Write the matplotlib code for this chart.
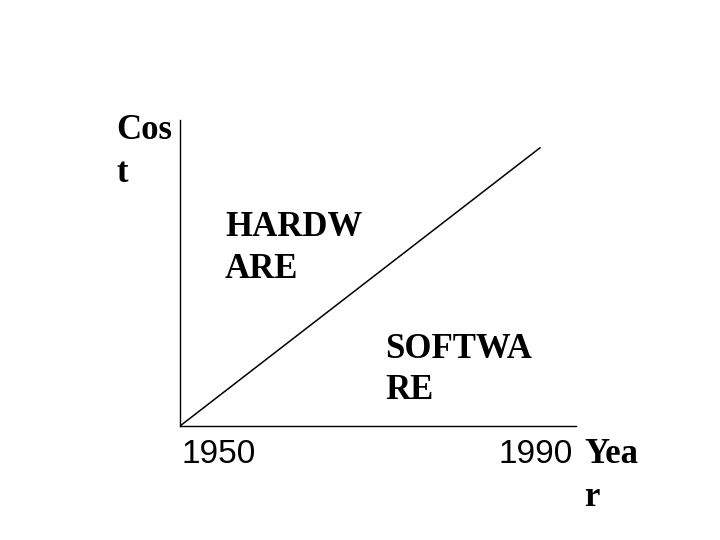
import matplotlib
matplotlib.use('Agg')
import matplotlib.pyplot as plt

# cost line, hardware vs software
years = [1950, 1990]
cost = [0, 1]
year_labels = ['1950', '1990']

serif = dict(family='Liberation Serif', weight='bold', fontsize=25)
sans = dict(family='Liberation Sans', fontsize=24)

fig = plt.figure(figsize=(7.2, 5.4), dpi=100)
ax = fig.add_axes([180 / 720, 1 - 426 / 540, 396 / 720, 306 / 540])

ax.plot(years, cost, color='black', lw=1.1)
ax.set_xlim(1950, 1994)
ax.set_ylim(0, 1.1)

for s in ['top', 'right']:
    ax.spines[s].set_visible(False)
for s in ['left', 'bottom']:
    ax.spines[s].set_linewidth(1.0)
ax.set_xticks([])
ax.set_yticks([])

def px(x, y):
    return x / 720, 1 - y / 540

fig.text(*px(116, 114), 'Cos\nt', va='top', ha='left', linespacing=1.4, **serif)
fig.text(*px(225, 211), 'HARDW\nARE', va='top', ha='left', linespacing=1.35, **serif)
fig.text(*px(385, 333), 'SOFTWA\nRE', va='top', ha='left', linespacing=1.32, **serif)
fig.text(*px(584, 438), 'Yea\nr', va='top', ha='left', linespacing=1.4, **serif)

fig.text(*px(181, 439), year_labels[0], va='top', ha='left', **sans)
fig.text(*px(573, 439), year_labels[1], va='top', ha='right', **sans)

fig.savefig('out.png', dpi=100, facecolor='white')
